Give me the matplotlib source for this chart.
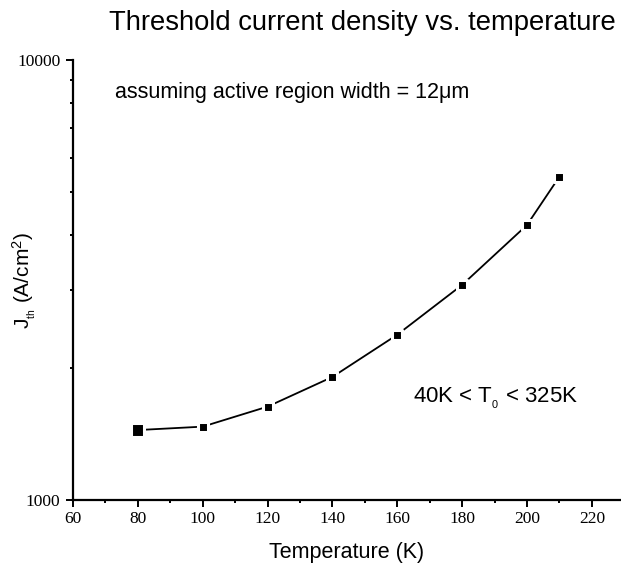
import matplotlib
matplotlib.use('Agg')
import matplotlib.pyplot as plt
from matplotlib.ticker import LogLocator, NullFormatter, FixedLocator, MultipleLocator

# temperature (K) and threshold current density (A/cm^2)
temperature = [80, 100, 120, 140, 160, 180, 200, 210]
j_th = [1442, 1468, 1630, 1904, 2375, 3082, 4217, 5430]
marker_area = [90, 52, 52, 52, 52, 52, 52, 52]

title_text = 'Threshold current density vs. temperature'
note_width = 'assuming active region width = 12\u03bcm'
note_t0 = r'40K < T$_{_\mathregular{0}}$ < 325K'

plt.rcParams['font.family'] = ['Liberation Sans', 'DejaVu Sans']
plt.rcParams['mathtext.fontset'] = 'custom'
plt.rcParams['mathtext.rm'] = 'Liberation Sans'
plt.rcParams['mathtext.it'] = 'Liberation Sans:italic'

fig = plt.figure(figsize=(6.21, 5.70), dpi=100)
ax = fig.add_axes([73/621, 70/570, 548/621, 440/570])

ax.plot(temperature, j_th, color='black', lw=1.3, zorder=2)
ax.scatter(temperature, j_th, s=marker_area, marker='s', c='black',
           edgecolors='white', linewidths=2.2, zorder=3)

ax.set_yscale('log')
ax.set_ylim(1000, 10000)
ax.set_xlim(60, 229)

ax.xaxis.set_major_locator(FixedLocator(range(60, 221, 20)))
ax.xaxis.set_minor_locator(MultipleLocator(10))
ax.yaxis.set_major_locator(FixedLocator([1000, 10000]))
ax.yaxis.set_minor_locator(LogLocator(base=10, subs=range(2, 10)))
ax.yaxis.set_minor_formatter(NullFormatter())
ax.set_yticklabels(['1000', '10000'])

for s in ['top', 'right']:
    ax.spines[s].set_visible(False)
for s in ['left', 'bottom']:
    ax.spines[s].set_linewidth(1.6)

ax.tick_params(which='major', direction='out', length=5, width=1.4, pad=3)
ax.tick_params(which='minor', direction='out', length=2.5, width=1.4)
ax.tick_params(axis='y', which='major', pad=4)
for lab in ax.get_xticklabels() + ax.get_yticklabels():
    lab.set_fontfamily('Liberation Serif')
    lab.set_fontsize(12.5)

ax.set_xlabel('Temperature (K)', fontsize=15.5)
ax.xaxis.set_label_coords(0.5, -0.095)
ax.set_ylabel(r'J$_{_\mathregular{th}}$ (A/cm$^\mathregular{2}$)', fontsize=15)
ax.yaxis.set_label_coords(-0.064, 0.5)

fig.text(616/621, 1 - 30/570, title_text, fontsize=19.7, ha='right', va='baseline')
fig.text(115/621, 1 - 98/570, note_width, fontsize=15.5, ha='left', va='baseline')
fig.text(413/621, 1 - 403/570, note_t0, fontsize=16, ha='left', va='baseline')

fig.savefig('out.png', dpi=100)
